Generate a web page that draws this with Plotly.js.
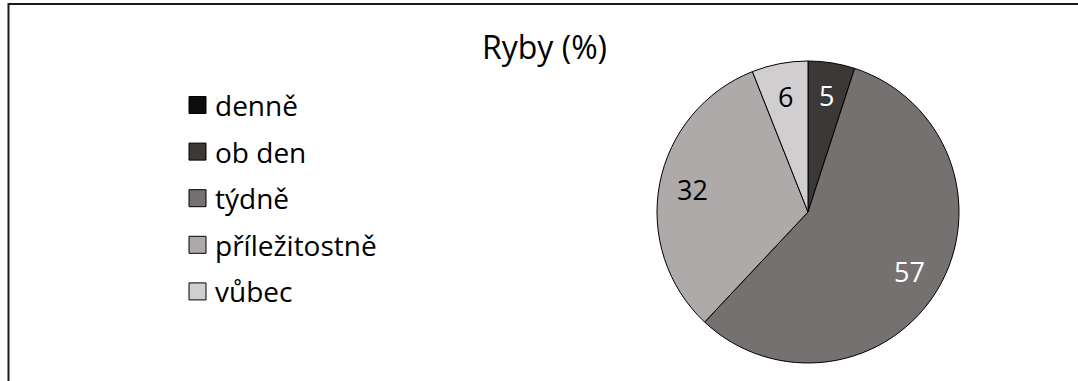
<!DOCTYPE html>
<html>
<head>
<meta charset="utf-8">
<script src="https://cdn.plot.ly/plotly-3.0.1.min.js"></script>
<style>
  html, body { margin: 0; padding: 0; background: #ffffff; }
  #chart { width: 1078px; height: 381px; }
</style>
</head>
<body>
<div id="chart"></div>
<script>
// Frequency of eating fish, in percent
const categories = ['denně', 'ob den', 'týdně', 'příležitostně', 'vůbec'];
const values = [0, 5, 57, 32, 6];

// Slice fills and label colours
const sliceColors = ['#0d0d0d', '#3b3838', '#767171', '#aeaaaa', '#d0cece'];
const labelColors = ['#ffffff', '#ffffff', '#ffffff', '#000000', '#000000'];

const W = 1078, H = 381;
const FONT = 'Open Sans, Noto Sans, sans-serif';
const px = x => x / W;          // pixel -> paper x
const py = y => 1 - y / H;      // pixel -> paper y

// Pie placement (pixels)
const cx = 808, cy = 212, R = 151;
const labelRadius = 0.78;

const pie = {
  type: 'pie',
  labels: categories,
  values: values,
  sort: false,
  direction: 'clockwise',
  rotation: 0,
  textinfo: 'none',
  hoverinfo: 'label+value',
  showlegend: false,
  marker: { colors: sliceColors, line: { color: '#000000', width: 1 } },
  domain: { x: [px(cx - R), px(cx + R)], y: [py(cy + R), py(cy - R)] }
};

const annotations = [];
const shapes = [];

// Value labels, placed at each slice's mid-angle
const total = values.reduce((a, b) => a + b, 0);
let acc = 0;
values.forEach((v, i) => {
  const mid = (acc + v / 2) / total * 2 * Math.PI;
  acc += v;
  if (v <= 0) return;
  const lx = cx + Math.sin(mid) * R * labelRadius;
  const ly = cy - Math.cos(mid) * R * labelRadius;
  annotations.push({
    xref: 'paper', yref: 'paper', x: px(lx), y: py(ly),
    xanchor: 'center', yanchor: 'middle', showarrow: false,
    text: String(v),
    font: { family: FONT, size: 27, color: labelColors[i] }
  });
});

// Legend on the left
const legX = 189, legY0 = 105, legStep = 46.6, box = 17;
categories.forEach((c, i) => {
  const yc = legY0 + i * legStep;
  shapes.push({
    type: 'rect', xref: 'paper', yref: 'paper',
    x0: px(legX), x1: px(legX + box), y0: py(yc + box / 2), y1: py(yc - box / 2),
    fillcolor: sliceColors[i], line: { color: '#000000', width: 1 }
  });
  annotations.push({
    xref: 'paper', yref: 'paper', x: px(legX + box + 7), y: py(yc),
    xanchor: 'left', yanchor: 'middle', showarrow: false,
    text: c,
    font: { family: FONT, size: 28, color: '#000000' }
  });
});

// Chart frame (left and top edges)
shapes.push({
  type: 'path', xref: 'paper', yref: 'paper',
  path: `M ${px(8.5)} ${py(H + 5)} L ${px(8.5)} ${py(4)} L ${px(W + 5)} ${py(4)}`,
  line: { color: '#1a1a1a', width: 2 }
});

const layout = {
  width: W, height: H,
  margin: { l: 0, r: 0, t: 0, b: 0, pad: 0 },
  paper_bgcolor: '#ffffff',
  plot_bgcolor: '#ffffff',
  title: {
    text: 'Ryby (%)',
    font: { family: FONT, size: 32, color: '#000000' },
    xref: 'paper', x: px(544.5), xanchor: 'center',
    yref: 'container', y: 1 - 47.5 / H, yanchor: 'middle'
  },
  shapes: shapes,
  annotations: annotations
};

Plotly.newPlot('chart', [pie], layout, { displayModeBar: false, staticPlot: true });
</script>
</body>
</html>
